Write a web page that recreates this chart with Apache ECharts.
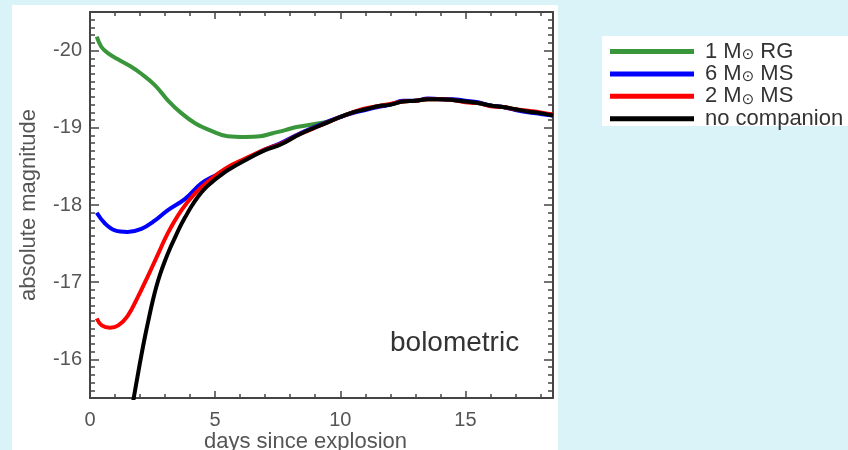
<!DOCTYPE html>
<html>
<head>
<meta charset="utf-8">
<script src="https://cdn.jsdelivr.net/npm/echarts@6/dist/echarts.min.js"></script>
<style>
html,body{margin:0;padding:0;background:#d9f3f8;}
#chart{width:848px;height:450px;}
</style>
</head>
<body>
<div id="chart"></div>
<script>
// ---- data ----
const seriesNames = ['1 M⊙ RG', '6 M⊙ MS', '2 M⊙ MS', 'no companion'];
const legendLabels = ['1 M{s|⊙} RG', '6 M{s|⊙} MS', '2 M{s|⊙} MS', 'no companion'];

const daysRG = [0.27,0.45,0.7,1.1,1.6,2.05,2.6,3.1,3.65,4.2,4.85,5.5,6.2,6.8,7.3,7.8,8.25,9.0,9.5,10.0,10.5,11.0,11.5,12.0,12.5,13.0,13.5,14.0,14.5,15.0,15.5,16.0,16.5,17.0,17.5,18.0,18.5];
const magRG  = [-20.18,-20.05,-19.97,-19.89,-19.80,-19.70,-19.55,-19.36,-19.19,-19.06,-18.96,-18.89,-18.88,-18.89,-18.93,-18.97,-19.01,-19.05,-19.08,-19.14,-19.20,-19.24,-19.28,-19.30,-19.34,-19.35,-19.37,-19.37,-19.36,-19.34,-19.32,-19.29,-19.27,-19.24,-19.21,-19.19,-19.16];

const days6MS = [0.27,0.6,1.0,1.5,2.05,2.6,3.1,3.8,4.45,5.1,5.8,6.45,7.0,7.6,8.4,9.2,10.0,10.5,11.0,11.5,12.0,12.5,13.0,13.5,14.0,14.5,15.0,15.5,16.0,16.5,17.0,17.5,18.0,18.5];
const mag6MS  = [-17.90,-17.76,-17.67,-17.65,-17.69,-17.80,-17.93,-18.08,-18.28,-18.40,-18.53,-18.63,-18.72,-18.80,-18.93,-19.04,-19.14,-19.19,-19.23,-19.27,-19.30,-19.35,-19.35,-19.38,-19.37,-19.37,-19.35,-19.33,-19.29,-19.27,-19.23,-19.20,-19.18,-19.16];

const days2MS = [0.27,0.47,0.8,1.13,1.5,1.9,2.3,2.7,3.1,3.65,4.2,4.85,5.5,6.2,7.0,7.6,8.4,9.2,10.0,10.5,11.0,11.5,12.0,12.5,13.0,13.5,14.0,14.5,15.0,15.5,16.0,16.5,17.0,17.5,18.0,18.5];
const mag2MS  = [-16.53,-16.44,-16.41,-16.44,-16.56,-16.80,-17.07,-17.35,-17.63,-17.93,-18.15,-18.34,-18.49,-18.60,-18.72,-18.79,-18.92,-19.03,-19.14,-19.20,-19.25,-19.28,-19.31,-19.34,-19.35,-19.37,-19.37,-19.36,-19.33,-19.32,-19.28,-19.27,-19.24,-19.22,-19.20,-19.17];

const daysNone = [1.72,1.9,2.05,2.2,2.35,2.5,2.65,2.8,3.0,3.2,3.4,3.6,3.8,4.05,4.3,4.55,4.85,5.2,5.5,6.2,7.0,7.6,8.4,9.2,10.0,10.5,11.0,11.5,12.0,12.5,13.0,13.5,14.0,14.5,15.0,15.5,16.0,16.5,17.0,17.5,18.0,18.5];
const magNone  = [-15.45,-15.78,-16.05,-16.30,-16.53,-16.75,-16.94,-17.10,-17.28,-17.44,-17.58,-17.72,-17.84,-17.98,-18.10,-18.20,-18.29,-18.38,-18.45,-18.58,-18.71,-18.78,-18.92,-19.03,-19.14,-19.20,-19.24,-19.28,-19.30,-19.34,-19.35,-19.37,-19.37,-19.36,-19.34,-19.32,-19.29,-19.27,-19.24,-19.21,-19.19,-19.16];

const xMajorTicks = [0, 5, 10, 15];
const yMajorTicks = [-20, -19, -18, -17, -16];

// ---- chart ----
const FONT = "'Liberation Sans', Arial, Helvetica, sans-serif";
const AXC = '#444';
const LBL = '#555';
function pairs(xs, ys){ return xs.map((x,i)=>[x, ys[i]]); }

const xRange = {min: 0, max: 18.5};
const yRange = {min: -20.5, max: -15.5};

function xAx(pos, major, labels){
  return Object.assign({
    type:'value', position: pos, gridIndex:0,
    axisLine:{show: major, onZero:false, lineStyle:{color:AXC, width:2}},
    axisTick: major
      ? {show:true, inside:true, length:7, customValues:xMajorTicks, lineStyle:{color:AXC, width:1.5}}
      : {show:true, inside:true, length:4, lineStyle:{color:AXC, width:1.5}},
    axisLabel: labels
      ? {show:true, customValues:xMajorTicks, fontSize:20, color:LBL, fontFamily:FONT, margin:12}
      : {show:false},
    splitLine:{show:false},
    interval: major ? undefined : 1
  }, xRange);
}
function yAx(pos, major, labels){
  return Object.assign({
    type:'value', position: pos, gridIndex:0, inverse:true,
    axisLine:{show: major, onZero:false, lineStyle:{color:AXC, width:2}},
    axisTick: major
      ? {show:true, inside:true, length:9, customValues:yMajorTicks, lineStyle:{color:AXC, width:1.5}}
      : {show:true, inside:true, length:5, lineStyle:{color:AXC, width:1.5}},
    axisLabel: labels
      ? {show:true, customValues:yMajorTicks, fontSize:20, color:LBL, fontFamily:FONT, margin:8}
      : {show:false},
    splitLine:{show:false},
    interval: major ? undefined : 0.1
  }, yRange);
}

const xAxes = [xAx('bottom', true, true), xAx('bottom', false, false), xAx('top', true, false), xAx('top', false, false)];
xAxes[0].name = 'days since explosion';
xAxes[0].nameLocation = 'middle';
xAxes[0].nameGap = 33;
xAxes[0].nameMoveOverlap = false;
xAxes[0].nameTextStyle = {fontSize:22, color:LBL, fontFamily:FONT, padding:[0,32,0,0]};

const yAxes = [yAx('left', true, true), yAx('left', false, false), yAx('right', true, false), yAx('right', false, false)];
yAxes[0].name = 'absolute magnitude';
yAxes[0].nameLocation = 'middle';
yAxes[0].nameGap = 50;
yAxes[0].nameMoveOverlap = false;
yAxes[0].nameTextStyle = {fontSize:22, color:LBL, fontFamily:FONT};

const colors = {rg:'#3a963a', ms6:'#0000ff', ms2:'#ff0000', none:'#000000'};
function lineSeries(name, xs, ys, color){
  return {
    name, type:'line', xAxisIndex:0, yAxisIndex:0,
    data: pairs(xs, ys), showSymbol:false, symbol:'none',
    smooth:0.4, clip:true,
    color, lineStyle:{color, width:4}
  };
}

const option = {
  backgroundColor:'#d9f3f8',
  animation:false,
  textStyle:{fontFamily:FONT},
  grid:{left:90, right:295, top:12, bottom:52, containLabel:false, outerBoundsMode:'none'},
  graphic:[
    {type:'rect', z:-10, silent:true, shape:{x:12, y:5, width:546, height:445}, style:{fill:'#ffffff'}},
    {type:'rect', z:-10, silent:true, shape:{x:602, y:36, width:246, height:90}, style:{fill:'#ffffff'}},
    {type:'text', z:10, left:390, top:329, style:{text:'bolometric', fill:'#333', font:"28px 'Liberation Sans', Arial, sans-serif"}}
  ],
  legend:{
    orient:'vertical', left:605, top:35.5, itemWidth:84, itemHeight:5, itemGap:0.4,
    icon:'rect', data: [seriesNames[0], seriesNames[1], seriesNames[2], seriesNames[3]],
    formatter: function(n){ return legendLabels[seriesNames.indexOf(n)]; },
    textStyle:{fontSize:22, color:'#333', fontFamily:FONT, lineHeight:22, padding:[0,0,0,6],
      rich:{ s:{fontSize:15, lineHeight:8, verticalAlign:'bottom', fontFamily:"'DejaVu Sans', sans-serif", color:'#333'} }},
    selectedMode:false
  },
  xAxis: xAxes,
  yAxis: yAxes,
  series:[
    lineSeries(seriesNames[0], daysRG, magRG, colors.rg),
    lineSeries(seriesNames[1], days6MS, mag6MS, colors.ms6),
    lineSeries(seriesNames[2], days2MS, mag2MS, colors.ms2),
    lineSeries(seriesNames[3], daysNone, magNone, colors.none)
  ]
};

const chart = echarts.init(document.getElementById('chart'), null, {renderer:'canvas'});
chart.setOption(option);
</script>
</body>
</html>
